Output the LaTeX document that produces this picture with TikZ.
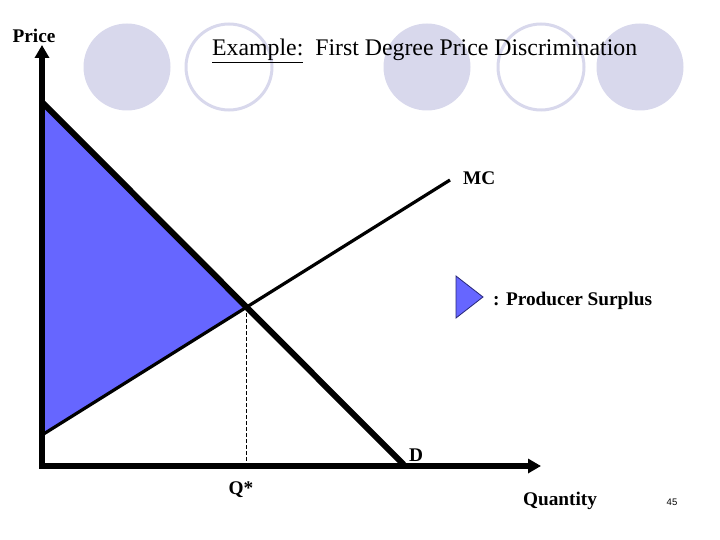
\documentclass[tikz,border=0pt]{standalone}
\usepackage{fontspec}
\setmainfont{Liberation Serif}
\newfontfamily\pagefont{Liberation Sans}
\usetikzlibrary{arrows.meta}
\definecolor{dotfill}{RGB}{216,216,236}
\definecolor{surplus}{RGB}{102,102,255}
\definecolor{legline}{RGB}{40,40,120}
\begin{document}
\begin{tikzpicture}[
  x=1pt, y=-1pt,
  dot/.style={circle, fill=dotfill, minimum size=87pt, inner sep=0pt},
  ring/.style={circle, draw=dotfill, line width=3pt, minimum size=86pt, inner sep=0pt},
  axis/.style={line width=6pt, {Triangle[width=14pt,length=13pt]}-{Triangle[width=14pt,length=13pt]}},
  lbl/.style={font=\bfseries\fontsize{19.3}{21}\selectfont, inner sep=0pt}
]
\useasboundingbox (0,0) rectangle (720,540);

% background circles
\node[dot] (c1) at (127,67) {};
\node[ring] (c2) at (229,67) {};
\node[dot] (c3) at (427,67) {};
\node[ring] (c4) at (541,67) {};
\node[dot] (c5) at (640,67) {};

\node[anchor=base west, font=\fontsize{23.8}{26}\selectfont, inner sep=0pt] (title) at (212,56)
  {\underline{Example:}\ \ First Degree Price Discrimination};

% curves
\coordinate (O) at (42,466);
\coordinate (ytip) at (42,45);
\coordinate (xtip) at (541,466);
\coordinate (dtop) at (42,102);
\coordinate (dbot) at (405,466);
\coordinate (mcl) at (42,435);
\coordinate (mcr) at (450,180);
\coordinate (eq) at (intersection of dtop--dbot and mcl--mcr);

\fill[surplus] (dtop) -- (eq) -- (mcl) -- cycle;
\draw[thin, dash pattern=on 4pt off 2pt] (eq) -- (eq |- O);
\draw[line width=3.2pt] (mcl) -- (mcr);
\draw[line width=6pt] (dtop) -- (dbot);
\draw[axis] (ytip) -- (O) -- (xtip);

% legend
\filldraw[fill=surplus, draw=legline, line width=0.8pt] (456,276) -- (483,297) -- (456,318) -- cycle;
\node[lbl, anchor=base west] (ps) at (493,305) {: Producer Surplus};

% labels
\node[lbl, anchor=base] (price) at (34,43) {Price};
\node[lbl, anchor=base west] (mc) at (463,185) {MC};
\node[lbl, anchor=base] (d) at (416,461) {D};
\node[lbl, anchor=base] (q) at (241,494) {Q*};
\node[lbl, anchor=base] (qty) at (560,505) {Quantity};
\node[font=\pagefont\fontsize{9.5}{10}\selectfont, anchor=base, inner sep=0pt] (pg) at (672,505) {45};
\end{tikzpicture}
\end{document}
